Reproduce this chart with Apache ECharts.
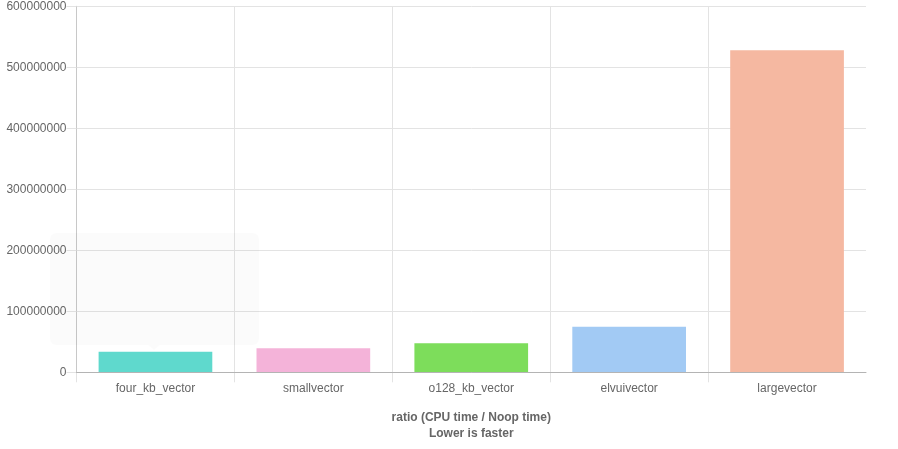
<!DOCTYPE html>
<html>
<head>
<meta charset="utf-8">
<script src="https://cdn.jsdelivr.net/npm/echarts@6/dist/echarts.min.js"></script>
<style>html,body{margin:0;padding:0;background:#fff}#c{width:898px;height:449px}</style>
</head>
<body>
<div id="c"></div>
<script>
var categories = ['four_kb_vector', 'smallvector', 'o128_kb_vector', 'elvuivector', 'largevector'];
var values = [33800000, 39300000, 47500000, 74800000, 528000000];
var colors = ['#5fd9cd', '#f4b3d9', '#7ddd5b', '#a2caf4', '#f5b8a1'];
var yTicks = [0, 100000000, 200000000, 300000000, 400000000, 500000000, 600000000];
var axisTitle = 'ratio (CPU time / Noop time)\nLower is faster';

var boundaries = categories.concat(['']);
var lastBoundary = boundaries.length - 1;

var chart = echarts.init(document.getElementById('c'), null, {renderer: 'canvas'});
var font = 'Liberation Sans, Arial, sans-serif';
var gridColor = '#e3e3e3';
chart.setOption({
  animation: false,
  grid: {left: 76.5, right: 32, top: 6.3, bottom: 76.7, containLabel: false, outerBoundsMode: 'none'},
  xAxis: [{
    type: 'category',
    position: 'bottom',
    data: categories,
    boundaryGap: true,
    z: 3,
    axisLine: {lineStyle: {color: '#b4b4b4', width: 1}},
    axisTick: {show: false},
    splitLine: {show: false},
    axisLabel: {color: '#666', fontSize: 12, fontFamily: font, margin: 10},
    name: axisTitle,
    nameLocation: 'middle',
    nameGap: 37,
    nameTextStyle: {color: '#666', fontSize: 12, fontWeight: 'bold', fontFamily: font, lineHeight: 16}
  }, {
    type: 'category',
    position: 'bottom',
    data: boundaries,
    boundaryGap: false,
    axisLine: {show: false},
    axisLabel: {show: false},
    axisTick: {show: true, length: 10, lineStyle: {color: gridColor},
      interval: function (i) { return i < lastBoundary; }},
    splitLine: {show: true, lineStyle: {color: gridColor},
      interval: function (i) { return i < lastBoundary; }}
  }],
  yAxis: {
    type: 'value',
    min: yTicks[0],
    max: yTicks[yTicks.length - 1],
    interval: yTicks[1] - yTicks[0],
    axisLine: {show: true, lineStyle: {color: '#c8c8c8'}},
    axisTick: {show: true, length: 10, lineStyle: {color: gridColor}},
    splitLine: {show: true, lineStyle: {color: gridColor}},
    axisLabel: {color: '#666', fontSize: 12, fontFamily: font, margin: 10,
      formatter: function (v) { return String(v); }}
  },
  series: [{
    type: 'bar',
    xAxisIndex: 0,
    data: values.map(function (v, i) {
      return {value: v, itemStyle: {color: colors[i]}};
    }),
    barWidth: '72%'
  }],
  graphic: [
    {type: 'rect', z: 100, shape: {x: 50, y: 233, width: 209, height: 112, r: 6}, style: {fill: 'rgba(0,0,0,0.014)'}},
    {type: 'polygon', z: 100, shape: {points: [[148, 345], [160, 345], [154, 350]]}, style: {fill: 'rgba(0,0,0,0.014)'}}
  ]
});
</script>
</body>
</html>
